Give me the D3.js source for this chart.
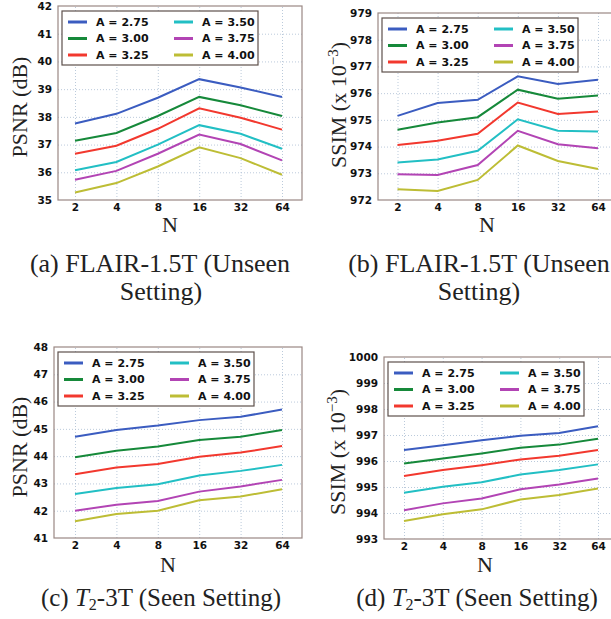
<!DOCTYPE html>
<html>
<head>
<meta charset="utf-8">
<script src="https://cdn.jsdelivr.net/npm/d3@7"></script>
<style>
  body { margin: 0; background: #fff; }
  svg { display: block; }
  .tick text { font-family: "DejaVu Sans", sans-serif; font-weight: bold; font-size: 10.5px; fill: #111; }
  .serif { font-family: "Liberation Serif", "Times New Roman", serif; fill: #222; }
</style>
</head>
<body>
<svg width="611" height="619"></svg>
<script>
// x values (log2 axis) and legend labels
var nValues = [2, 4, 8, 16, 32, 64];
var aLabels = ["A = 2.75", "A = 3.00", "A = 3.25", "A = 3.50", "A = 3.75", "A = 4.00"];
var colors = ["#3b5cc0", "#16893a", "#f2382e", "#22bfc4", "#b244b4", "#bdbd35"];

// (a) PSNR, FLAIR-1.5T
var psnrFlair = [
  [37.76, 38.11, 38.69, 39.36, 39.06, 38.72],
  [37.14, 37.42, 38.03, 38.72, 38.42, 38.03],
  [36.67, 36.96, 37.57, 38.31, 37.97, 37.54],
  [36.07, 36.37, 37.00, 37.70, 37.39, 36.85],
  [35.73, 36.05, 36.67, 37.36, 37.02, 36.43],
  [35.27, 35.61, 36.21, 36.90, 36.51, 35.91]
];
// (b) SSIM x 1e-3, FLAIR-1.5T
var ssimFlair = [
  [975.15, 975.63, 975.75, 976.63, 976.34, 976.50],
  [974.63, 974.90, 975.10, 976.13, 975.79, 975.91],
  [974.06, 974.22, 974.48, 975.65, 975.22, 975.31],
  [973.40, 973.52, 973.84, 975.02, 974.59, 974.56],
  [972.96, 972.94, 973.31, 974.59, 974.09, 973.94],
  [972.40, 972.34, 972.75, 974.04, 973.46, 973.16]
];
// (c) PSNR, T2-3T
var psnrT2 = [
  [44.71, 44.96, 45.12, 45.32, 45.44, 45.71],
  [43.96, 44.20, 44.35, 44.59, 44.71, 44.96],
  [43.34, 43.58, 43.71, 43.98, 44.13, 44.37],
  [42.61, 42.83, 42.97, 43.29, 43.46, 43.68],
  [42.00, 42.22, 42.36, 42.70, 42.89, 43.13],
  [41.61, 41.88, 42.00, 42.38, 42.52, 42.79]
];
// (d) SSIM x 1e-3, T2-3T
var ssimT2 = [
  [996.42, 996.61, 996.80, 996.97, 997.08, 997.34],
  [995.90, 996.10, 996.29, 996.51, 996.63, 996.86],
  [995.42, 995.65, 995.84, 996.06, 996.20, 996.42],
  [994.78, 995.01, 995.18, 995.48, 995.65, 995.87],
  [994.11, 994.37, 994.56, 994.91, 995.10, 995.33],
  [993.69, 993.95, 994.14, 994.52, 994.69, 994.94]
];

var psnrTicksA = d3.range(35, 43);
var ssimTicksB = d3.range(972, 980);
var psnrTicksC = d3.range(41, 49);
var ssimTicksD = d3.range(993, 1001);

var svg = d3.select("svg");

// Layout for each panel (pixel positions).
var panels = [
  { data: psnrFlair, yTicks: psnrTicksA, ylab: "psnr", left: 58, right: 302, top: 6, bottom: 200, x2: 75, x64: 282, ylx: 19, yly: 107, nx: 170, ny: 232 },
  { data: ssimFlair, yTicks: ssimTicksB, ylab: "ssim", left: 378, right: 617, top: 13, bottom: 200, x2: 397.5, x64: 598, ylx: 338, yly: 105, nx: 487, ny: 232 },
  { data: psnrT2, yTicks: psnrTicksC, ylab: "psnr", left: 54, right: 302, top: 347, bottom: 538, x2: 75, x64: 282, ylx: 19, yly: 447, nx: 168, ny: 572 },
  { data: ssimT2, yTicks: ssimTicksD, ylab: "ssim", left: 384, right: 617, top: 357, bottom: 539, x2: 404, x64: 598, ylx: 337, yly: 452, nx: 485, ny: 572 }
];

panels.forEach(function(p) {
  var x = d3.scaleLog().base(2).domain([2, 64]).range([p.x2, p.x64]);
  var y = d3.scaleLinear().domain(d3.extent(p.yTicks)).range([p.bottom, p.top]);
  var w = p.right - p.left, h = p.bottom - p.top;

  var g = svg.append("g");

  // Axes with grid lines as inner ticks.
  var xa = g.append("g")
      .attr("transform", "translate(0," + p.bottom + ")")
      .call(d3.axisBottom(x).tickValues(nValues).tickFormat(d3.format("d")).tickSize(-h).tickPadding(3.5));
  var ya = g.append("g")
      .attr("transform", "translate(" + p.left + ",0)")
      .call(d3.axisLeft(y).tickValues(p.yTicks).tickFormat(d3.format("d")).tickSize(-w).tickPadding(6));
  [xa, ya].forEach(function(a) {
    a.select(".domain").remove();
    a.selectAll(".tick line")
      .attr("stroke", "#a9bdd2")
      .attr("stroke-width", 0.8)
      .attr("stroke-dasharray", "1,2");
  });
  // drop the grid lines lying on the frame
  ya.selectAll(".tick line").filter(function(d, i) { return i == 0 || i == p.yTicks.length - 1; }).remove();

  // Frame
  g.append("rect")
    .attr("x", p.left).attr("y", p.top)
    .attr("width", w).attr("height", h)
    .attr("fill", "none")
    .attr("stroke", "#9a8884")
    .attr("stroke-width", 1.2);

  // Series lines
  var line = d3.line()
    .x(function(d, i) { return x(nValues[i]); })
    .y(function(d) { return y(d); });

  g.selectAll(".series")
    .data(p.data)
    .enter().append("path")
      .attr("class", "series")
      .attr("d", line)
      .attr("fill", "none")
      .attr("stroke", function(d, i) { return colors[i]; })
      .attr("stroke-width", 2);

  // Legend (two columns of three)
  var lx = p.left + 4, ly = p.top + 5;
  var legend = g.append("g").attr("transform", "translate(" + lx + "," + ly + ")");
  legend.append("rect")
    .attr("width", 196).attr("height", 54)
    .attr("fill", "#fff")
    .attr("stroke", "#5e504c")
    .attr("stroke-width", 1.2);
  var item = legend.selectAll(".item")
    .data(aLabels)
    .enter().append("g")
      .attr("transform", function(d, i) {
        return "translate(" + (i < 3 ? 0 : 106) + "," + (11 + (i % 3) * 16.5) + ")";
      });
  item.append("line")
    .attr("x1", 6).attr("x2", 25)
    .attr("stroke", function(d, i) { return colors[i]; })
    .attr("stroke-width", 3);
  item.append("text")
    .attr("x", 34).attr("dy", "0.36em")
    .style("font-family", "DejaVu Sans, sans-serif")
    .style("font-weight", "bold")
    .style("font-size", "11px")
    .attr("fill", "#111")
    .text(function(d) { return d; });

  // Axis titles
  g.append("text")
    .attr("class", "serif")
    .attr("x", p.nx).attr("y", p.ny)
    .attr("text-anchor", "middle")
    .style("font-size", "22px")
    .text("N");

  var yl = g.append("text")
    .attr("class", "serif")
    .attr("text-anchor", "middle")
    .attr("dy", "0.35em")
    .attr("transform", "translate(" + p.ylx + "," + p.yly + ") rotate(-90)")
    .style("font-size", "22px");
  if (p.ylab == "psnr") {
    yl.text("PSNR (dB)");
  } else {
    yl.append("tspan").text("SSIM (x 10");
    yl.append("tspan").attr("dy", -8).style("font-size", "15px").text("\u22123");
    yl.append("tspan").attr("dy", 8).text(")");
  }
});

// Sub-figure captions
function caption(xx, yy, size, parts) {
  var t = svg.append("text")
    .attr("class", "serif")
    .attr("x", xx).attr("y", yy)
    .attr("text-anchor", "middle")
    .style("font-size", size + "px");
  parts.forEach(function(pt) {
    var s = t.append("tspan").text(pt.t);
    if (pt.it) s.style("font-style", "italic");
    if (pt.sub) s.attr("dy", 4).style("font-size", "16px");
    if (pt.after) s.attr("dy", -4);
  });
}
caption(160, 272, 26, [{ t: "(a) FLAIR-1.5T (Unseen" }]);
caption(161, 300, 26, [{ t: "Setting)" }]);
caption(479, 272, 26, [{ t: "(b) FLAIR-1.5T (Unseen" }]);
caption(479, 300, 26, [{ t: "Setting)" }]);
caption(161, 606, 25, [{ t: "(c) " }, { t: "T", it: true }, { t: "2", sub: true }, { t: "-3T (Seen Setting)", after: true }]);
caption(477, 606, 25, [{ t: "(d) " }, { t: "T", it: true }, { t: "2", sub: true }, { t: "-3T (Seen Setting)", after: true }]);
</script>
</body>
</html>
